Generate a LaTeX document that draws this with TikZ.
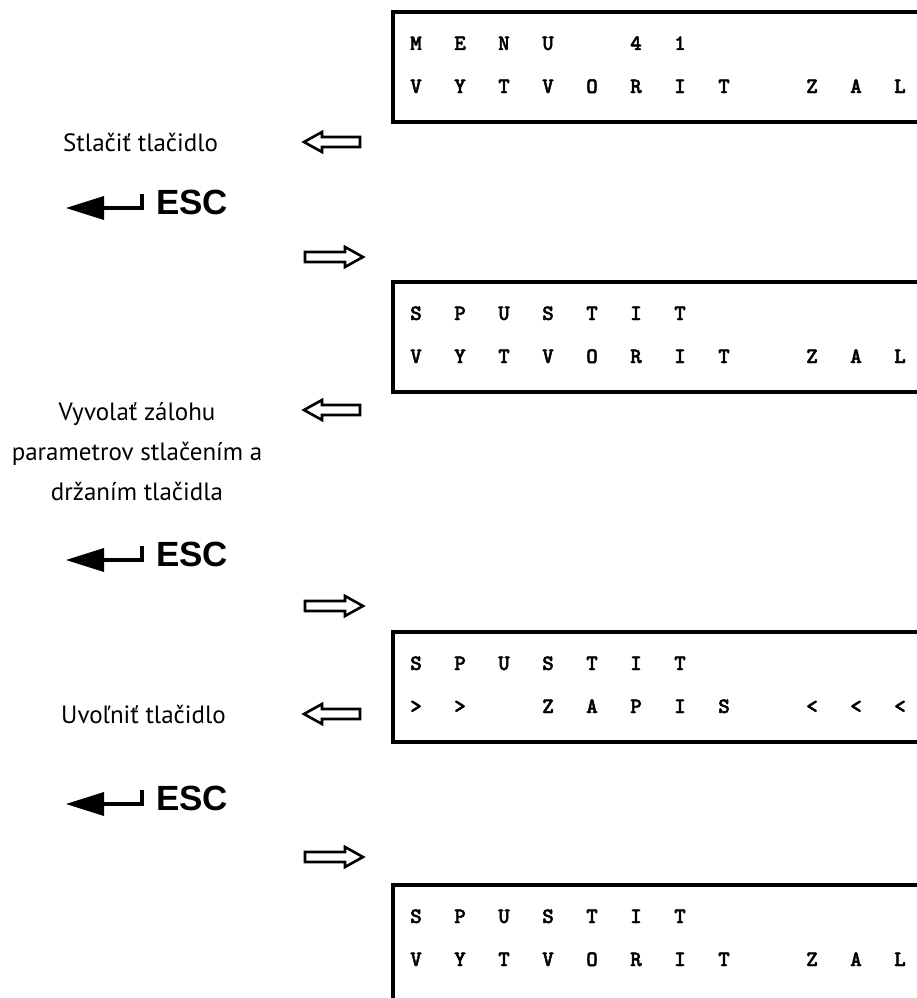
\documentclass[tikz,border=0pt]{standalone}
\usepackage{fontspec}
\newfontfamily\labfont{PT Sans}
\newfontfamily\keyfont{Liberation Sans}
\newfontfamily\lcdfont{lmmonolt10-bold}[Extension=.otf,FakeBold=2]
\usetikzlibrary{positioning}
\tikzset{frame/.style={draw=black,line width=4pt,line join=miter},
  lcdchar/.style={font=\lcdfont\fontsize{22}{22}\selectfont,inner sep=0pt,anchor=base},
  hint/.style={font=\labfont\fontsize{25}{40}\selectfont,align=center,inner sep=0pt},
  hollow/.style={draw=black,fill=white,line width=2.6pt,line join=miter},
  keytxt/.style={font=\keyfont\bfseries\fontsize{35}{35}\selectfont,inner sep=0pt,anchor=base west}}
% display: [height], name, top edge, first row, second row
\newcommand{\lcd}[5][110]{%
  \draw[frame](940,#3)--(393,#3)--(393,#3+#1)--(940,#3+#1);
  \foreach \i/\ch in {#4} \node[lcdchar] (#2a\i) at ({416+44*\i},#3+38) {\ch};
  \foreach \i/\ch in {#5} \node[lcdchar] (#2b\i) at ({416+44*\i},#3+81) {\ch};}
\newcommand{\esckey}[2]{%
  \fill(66,#2)--(104,#2-12)--(104,#2+12)--cycle;
  \draw[line width=3.5pt](102,#2)--(142,#2)--(142,#2-14);
  \node[keytxt] (#1) at (156,#2+6) {ESC};}
\newcommand{\backarr}[1]{\draw[hollow](304,#1)--(322,#1-10)--(322,#1-5)--(360,#1-5)--(360,#1+5)--(322,#1+5)--(322,#1+10)--cycle;}
\newcommand{\fwdarr}[1]{\draw[hollow](363,#1)--(345,#1-10)--(345,#1-5)--(305,#1-5)--(305,#1+5)--(345,#1+5)--(345,#1+10)--cycle;}

\begin{document}
\begin{tikzpicture}[x=1pt,y=-1pt]
    \useasboundingbox (0,0) rectangle (917,998);
    \clip (0,0) rectangle (917,998);
    \fill[white] (0,0) rectangle (917,998);
    \lcd{m}{12}{0/M,1/E,2/N,3/U,5/4,6/1}{0/V,1/Y,2/T,3/V,4/O,5/R,6/I,7/T,9/Z,10/A,11/L}
    \node[hint,anchor=west] (stlac) at (63,142) {Stlačiť tlačidlo};
    \backarr{142}
    \esckey{esca}{208}
    \fwdarr{257}
    \lcd{s}{282}{0/S,1/P,2/U,3/S,4/T,5/I,6/T}{0/V,1/Y,2/T,3/V,4/O,5/R,6/I,7/T,9/Z,10/A,11/L}
    \node[hint] (vyvol) at (137,452) {Vyvolať zálohu\\parametrov stlačením a\\držaním tlačidla};
    \backarr{410}
    \esckey{escb}{560}
    \fwdarr{606}
    \lcd{z}{632}{0/S,1/P,2/U,3/S,4/T,5/I,6/T}{0/>,1/>,3/Z,4/A,5/P,6/I,7/S,9/<,10/<,11/<}
    \node[hint,anchor=west] (uvol) at (61,714) {Uvoľniť tlačidlo};
    \backarr{714}
    \esckey{escc}{804}
    \fwdarr{857}
    \lcd[140]{k}{885}{0/S,1/P,2/U,3/S,4/T,5/I,6/T}{0/V,1/Y,2/T,3/V,4/O,5/R,6/I,7/T,9/Z,10/A,11/L}
  \end{tikzpicture}
\end{document}
